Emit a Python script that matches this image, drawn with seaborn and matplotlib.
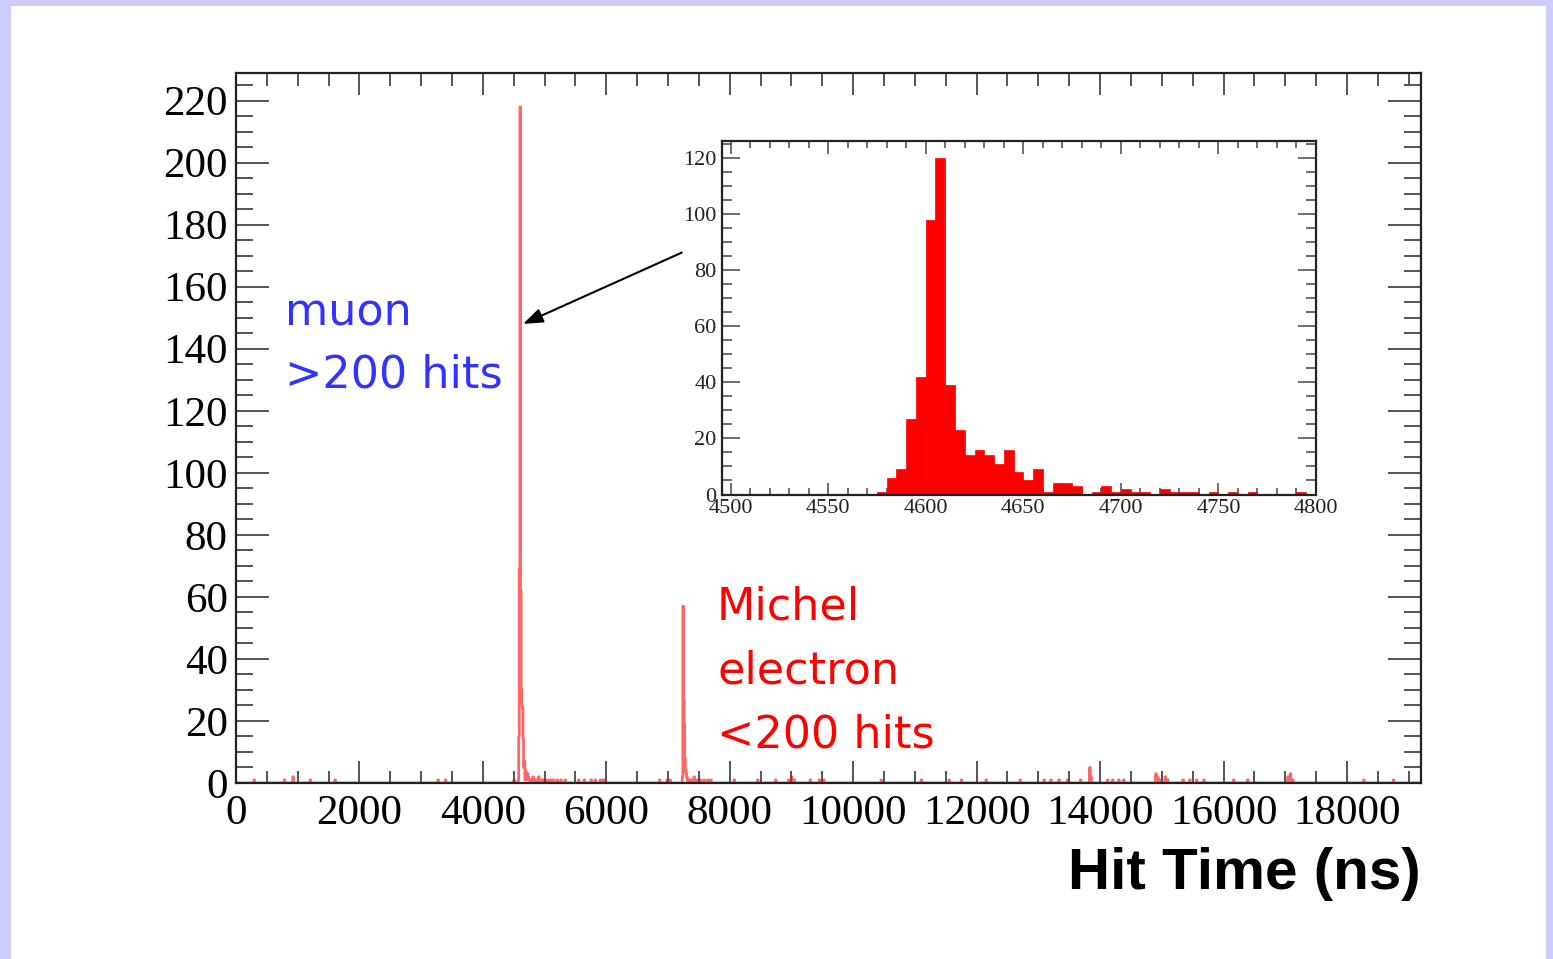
import numpy as np
import pandas as pd
import matplotlib
matplotlib.use("Agg")
import matplotlib.pyplot as plt
from matplotlib.patches import Rectangle
from matplotlib.ticker import MultipleLocator
import seaborn as sns

# ---------------- data ----------------
# main histogram: 10 ns bins from 0 to 19200 ns
main_bin_width = 10
main_range = (0, 19200)

# muon peak (bin start in ns, counts)
muon_bins = [4570, 4580, 4590, 4600, 4610, 4620, 4630, 4640, 4650, 4660, 4670,
             4680, 4690, 4700, 4710, 4720, 4730, 4740, 4750, 4760, 4790]
muon_counts = [1, 15, 69, 218, 62, 30, 25, 24, 14, 5, 7,
               1, 4, 3, 1, 3, 2, 1, 1, 1, 1]

# Michel electron peak
michel_bins = [7230, 7240, 7250, 7260, 7270, 7280, 7290, 7300, 7320, 7350,
               7380, 7420, 7470, 7520, 7580, 7640, 7690]
michel_counts = [2, 57, 27, 19, 8, 4, 3, 2, 1, 1, 1, 2, 1, 1, 1, 1, 1]

# scattered noise hits
noise_bins = [290, 780, 920, 1200, 1600, 3270, 3390, 4500,
              4810, 4830, 4850, 4880, 4900, 4940, 4970, 5010, 5050, 5100, 5140,
              5200, 5260, 5330, 5550, 5640, 5750, 5820, 5900, 5950,
              6860, 6980, 7030, 8070, 8450, 8740, 8950, 9000, 9040, 9300, 9450,
              9520, 10450, 11100, 11550, 11750, 12150, 12700,
              13090, 13200, 13330, 13470, 13680, 13830, 13850, 14120, 14200,
              14300, 14380, 14900, 14930, 14960, 15050, 15090, 15340, 15450,
              15560, 15680, 16160, 16390, 17040, 17080, 17120, 18270, 18750]
noise_counts = [1, 1, 2, 1, 1, 1, 1, 1,
                2, 1, 1, 1, 2, 1, 1, 1, 1, 1, 1,
                1, 1, 1, 1, 1, 1, 1, 1, 1,
                1, 1, 1, 1, 1, 1, 1, 2, 1, 1, 1,
                1, 1, 1, 1, 1, 1, 1,
                1, 1, 1, 1, 1, 5, 2, 1, 1,
                1, 1, 3, 2, 1, 2, 1, 1, 1,
                1, 1, 1, 1, 2, 3, 1, 1, 1]

# inset: 5 ns bins from 4500 to 4800 ns
inset_bin_width = 5
inset_range = (4500, 4800)
inset_counts = [0, 0, 0, 0, 0, 0, 0, 0, 0, 0,
                0, 0, 0, 0, 0, 1, 6, 9, 27, 42,
                98, 120, 39, 23, 14, 16, 14, 11, 16, 8,
                5, 9, 1, 4, 4, 3, 0, 1, 3, 1,
                2, 1, 1, 0, 2, 1, 1, 1, 0, 1,
                0, 1, 0, 1, 0, 0, 0, 0, 1, 0]

main_xticks = list(range(0, 18001, 2000))
main_yticks = list(range(0, 221, 20))
inset_xticks = list(range(4500, 4801, 50))
inset_yticks = list(range(0, 121, 20))

# ---------------- build tables ----------------
n_main = int((main_range[1] - main_range[0]) / main_bin_width)
main_n = np.zeros(n_main)
for b, c in zip(muon_bins + michel_bins + noise_bins,
                muon_counts + michel_counts + noise_counts):
    main_n[int((b - main_range[0]) // main_bin_width)] += c
main_df = pd.DataFrame({
    "t": main_range[0] + main_bin_width * (np.arange(n_main) + 0.5),
    "n": main_n})

inset_df = pd.DataFrame({
    "t": inset_range[0] + inset_bin_width * (np.arange(len(inset_counts)) + 0.5),
    "n": np.array(inset_counts, dtype=float)})

# ---------------- figure ----------------
sns.set_style("white")
plt.rcParams["font.family"] = ["DejaVu Sans"]

W, H = 1553, 959
fig = plt.figure(figsize=(W / 100, H / 100), dpi=100, facecolor="#ccccff")
fig.patches.append(Rectangle((11 / W, 0), (1546 - 11) / W, (959 - 6) / H,
                             transform=fig.transFigure, facecolor="white",
                             edgecolor="none", zorder=-10))

def fig_axes(x0, y0, x1, y1):
    a = fig.add_axes([x0 / W, 1 - y1 / H, (x1 - x0) / W, (y1 - y0) / H])
    a.set_zorder(1)
    return a

serif = "Liberation Serif"

# main axes
ax = fig_axes(236, 73, 1421, 783)
sns.histplot(data=main_df, x="t", weights="n", binwidth=main_bin_width,
             binrange=main_range, element="step",
             fill=False, color="#ff0000", alpha=0.6, linewidth=2.0, ax=ax)
ax.set_xlim(*main_range)
ax.set_ylim(0, 228.9)
ax.set_xlabel("")
ax.set_ylabel("")
ax.set_xticks(main_xticks)
ax.set_xticklabels([str(v) for v in main_xticks])
ax.set_yticks(main_yticks)
ax.set_yticklabels([str(v) for v in main_yticks])
ax.xaxis.set_minor_locator(MultipleLocator(500))
ax.yaxis.set_minor_locator(MultipleLocator(5))
ax.tick_params(axis="x", which="major", direction="in", length=16, width=1.4,
               color="#555555", labelcolor="black", top=True, bottom=True,
               labelsize=31, pad=8)
ax.tick_params(axis="x", which="minor", direction="in", length=9, width=1.4,
               color="#555555", top=True, bottom=True)
ax.tick_params(axis="y", which="major", direction="in", length=24, width=1.4,
               color="#555555", labelcolor="black", left=True, right=True,
               labelsize=31, pad=6)
ax.tick_params(axis="y", which="minor", direction="in", length=12, width=1.4,
               color="#555555", left=True, right=True)
for lab in ax.get_xticklabels() + ax.get_yticklabels():
    lab.set_fontfamily(serif)
for sp in ax.spines.values():
    sp.set_visible(True)
    sp.set_linewidth(1.6)
    sp.set_color("#222222")

# arrow from the inset to the muon peak
ax.annotate("", xy=(4650, 148), xytext=(7223, 171),
            arrowprops=dict(arrowstyle="-|>,head_length=0.6,head_width=0.22",
                            color="black", lw=1.5, mutation_scale=20,
                            shrinkA=0, shrinkB=0))

# inset axes
axi = fig_axes(722, 141, 1316, 494.5)
axi.set_zorder(2)
sns.histplot(data=inset_df, x="t", weights="n", binwidth=inset_bin_width,
             binrange=inset_range,
             color="#ff0000", alpha=1.0, edgecolor="#ff0000", linewidth=0.5,
             ax=axi)
axi.set_xlim(4495.6, 4800)
axi.set_ylim(0, 126)
axi.set_xlabel("")
axi.set_ylabel("")
axi.set_xticks(inset_xticks)
axi.set_xticklabels([str(v) for v in inset_xticks])
axi.set_yticks(inset_yticks)
axi.set_yticklabels([str(v) for v in inset_yticks])
axi.xaxis.set_minor_locator(MultipleLocator(10))
axi.yaxis.set_minor_locator(MultipleLocator(5))
axi.tick_params(axis="x", which="major", direction="in", length=9, width=1.2,
                color="#555555", labelcolor="#222222", top=True, bottom=True,
                labelsize=16, pad=3)
axi.tick_params(axis="x", which="minor", direction="in", length=5, width=1.2,
                color="#555555", top=True, bottom=True)
axi.tick_params(axis="y", which="major", direction="in", length=13, width=1.2,
                color="#555555", labelcolor="#222222", left=True, right=True,
                labelsize=16, pad=4)
axi.tick_params(axis="y", which="minor", direction="in", length=7, width=1.2,
                color="#555555", left=True, right=True)
for lab in axi.get_xticklabels() + axi.get_yticklabels():
    lab.set_fontfamily(serif)
for sp in axi.spines.values():
    sp.set_visible(True)
    sp.set_linewidth(1.6)
    sp.set_color("#222222")

# annotations
def ftext(x, y, s, **kw):
    fig.text(x / W, 1 - y / H, s, **kw)

blue = "#3333ff"
red = "#ff0000"
ftext(285, 325, "muon", color=blue, fontsize=32, va="baseline", ha="left")
ftext(285, 388, ">200 hits", color=blue, fontsize=32, va="baseline", ha="left")
ftext(717, 620, "Michel", color=red, fontsize=32, va="baseline", ha="left")
ftext(717, 683, "electron", color=red, fontsize=32, va="baseline", ha="left")
ftext(717, 747, "<200 hits", color=red, fontsize=32, va="baseline", ha="left")
ftext(1421, 889, "Hit Time (ns)", color="black", fontsize=42, fontweight="bold",
      family="Liberation Sans", va="baseline", ha="right")

fig.savefig("out.png", dpi=100, facecolor=fig.get_facecolor())
